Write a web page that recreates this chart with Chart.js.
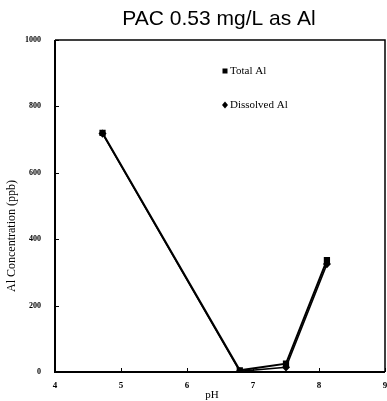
<!DOCTYPE html>
<html>
<head>
<meta charset="utf-8">
<script src="https://cdn.jsdelivr.net/npm/chart.js@4"></script>
<style>
  html, body { margin: 0; padding: 0; background: #fff; overflow: hidden; }
  #wrap { width: 387px; height: 401px; position: relative; }
</style>
</head>
<body>
<div id="wrap"><canvas id="chart"></canvas></div>
<script>
// data
const phValues = [4.72, 6.8, 7.5, 8.12];
const totalAl = [720, 5, 25, 337];
const dissolvedAl = [718, 2, 14, 325];
const xTicks = [4, 5, 6, 7, 8, 9];
const yTicks = [0, 200, 400, 600, 800, 1000];

const serif = '"Liberation Serif", "DejaVu Serif", serif';

// title, axis titles, legend, frame and inward tick marks
const decor = {
  id: 'decor',
  afterDraw(chart) {
    const c = chart.ctx, a = chart.chartArea;
    const xs = chart.scales.x, ys = chart.scales.y;
    c.save();
    c.strokeStyle = '#000';
    // frame
    c.lineWidth = 1.5;
    c.beginPath();
    c.moveTo(a.left, a.top); c.lineTo(a.right, a.top); c.lineTo(a.right, a.bottom);
    c.stroke();
    c.lineWidth = 2;
    c.beginPath();
    c.moveTo(a.left, a.top); c.lineTo(a.left, a.bottom); c.lineTo(a.right, a.bottom);
    c.stroke();
    // inward ticks
    c.lineWidth = 1;
    yTicks.forEach(v => {
      const y = Math.round(ys.getPixelForValue(v)) + 0.5;
      c.beginPath(); c.moveTo(a.left, y); c.lineTo(a.left + 4, y); c.stroke();
    });
    xTicks.forEach(v => {
      const x = Math.round(xs.getPixelForValue(v)) + 0.5;
      c.beginPath(); c.moveTo(x, a.bottom); c.lineTo(x, a.bottom - 4); c.stroke();
    });
    c.fillStyle = '#000';
    // title
    c.font = '21px "Liberation Sans", Arial, sans-serif';
    c.textAlign = 'center'; c.textBaseline = 'middle';
    c.fillText('PAC 0.53 mg/L as Al', 219, 19);
    // x title
    c.font = '11px ' + serif;
    c.fillText('pH', 212, 395);
    // y title
    c.save();
    c.translate(12, 236);
    c.rotate(-Math.PI / 2);
    c.font = '12px ' + serif;
    c.fillText('Al Concentration (ppb)', 0, 0);
    c.restore();
    // legend
    const lx = a.left + 170;
    c.font = '11px ' + serif;
    c.textAlign = 'left';
    c.fillRect(lx - 2.5, a.top + 31 - 2.5, 5, 5);
    c.fillText('Total Al', lx + 5, a.top + 31);
    c.beginPath();
    c.moveTo(lx, a.top + 65 - 3.5); c.lineTo(lx + 3, a.top + 65);
    c.lineTo(lx, a.top + 65 + 3.5); c.lineTo(lx - 3, a.top + 65);
    c.closePath(); c.fill();
    c.fillText('Dissolved Al', lx + 5, a.top + 65);
    c.restore();
  }
};

new Chart(document.getElementById('chart'), {
  type: 'line',
  data: {
    datasets: [{
      label: 'Total Al',
      data: phValues.map((x, i) => ({ x: x, y: totalAl[i] })),
      borderColor: '#000',
      backgroundColor: '#000',
      borderWidth: 2,
      pointStyle: 'rect',
      pointRadius: 3,
      tension: 0
    }, {
      label: 'Dissolved Al',
      data: phValues.map((x, i) => ({ x: x, y: dissolvedAl[i] })),
      borderColor: '#000',
      backgroundColor: '#000',
      borderWidth: 1.5,
      pointStyle: 'rectRot',
      pointRadius: 3,
      tension: 0
    }]
  },
  options: {
    responsive: true,
    maintainAspectRatio: false,
    animation: false,
    layout: { autoPadding: false, padding: { left: 0, right: 2, top: 40, bottom: 0 } },
    plugins: {
      legend: { display: false },
      tooltip: { enabled: false }
    },
    scales: {
      x: {
        type: 'linear',
        min: 4, max: 9,
        afterFit: s => { s.height = 29; s.paddingRight = 0; s.paddingLeft = 0; },
        afterBuildTicks: s => { s.ticks = xTicks.map(v => ({ value: v })); },
        grid: { display: false },
        border: { display: false },
        ticks: { color: '#000', font: { family: serif, size: 9, weight: 'bold' }, padding: 0, maxRotation: 0 }
      },
      y: {
        min: 0, max: 1000,
        afterFit: s => { s.width = 55; s.paddingTop = 0; s.paddingBottom = 0; },
        afterBuildTicks: s => { s.ticks = yTicks.map(v => ({ value: v })); },
        grid: { display: false },
        border: { display: false },
        ticks: {
          color: '#000',
          font: { family: serif, size: 8, weight: 'bold' },
          padding: 6,
          callback: v => String(v)
        }
      }
    }
  },
  plugins: [decor]
});
</script>
</body>
</html>
